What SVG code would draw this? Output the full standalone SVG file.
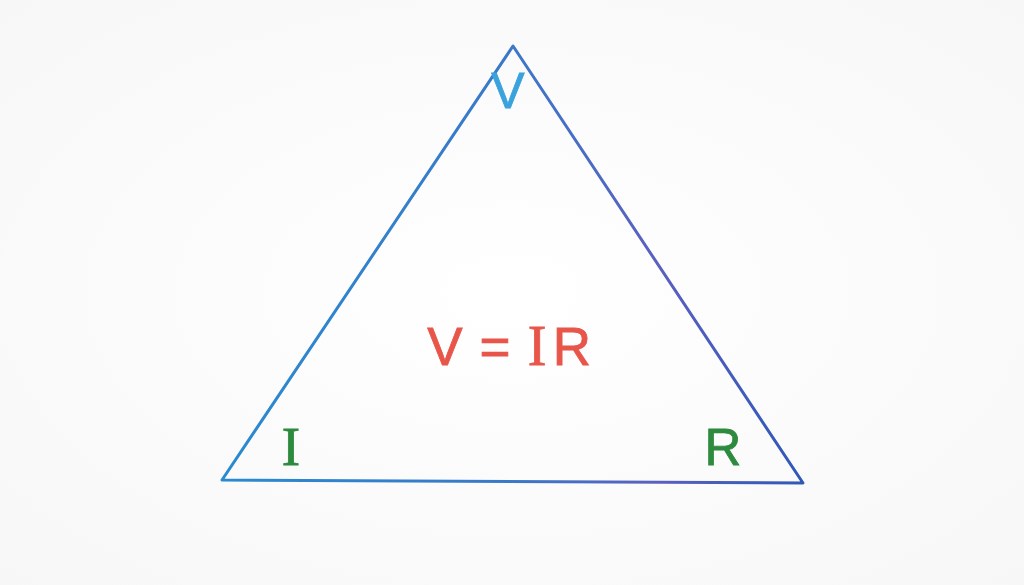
<svg xmlns="http://www.w3.org/2000/svg" width="1024" height="585" viewBox="0 0 1024 585">
<defs>
<linearGradient id="edge" x1="222" y1="0" x2="803" y2="0" gradientUnits="userSpaceOnUse">
<stop offset="0" stop-color="#2a8ad0"/>
<stop offset="0.5" stop-color="#3a78c8"/>
<stop offset="0.75" stop-color="#5a60c0"/>
<stop offset="1" stop-color="#2f58b8"/>
</linearGradient>
<radialGradient id="bg" cx="0.5" cy="0.5" r="0.7">
<stop offset="0" stop-color="#ffffff"/>
<stop offset="1" stop-color="#f7f7f7"/>
</radialGradient>
<style>
.lbl{font-family:"Liberation Sans","DejaVu Sans",sans-serif;}
.ser{font-family:"Liberation Serif","DejaVu Serif",serif;}
</style>
</defs>
<rect width="1024" height="585" fill="url(#bg)"/>
<g id="connectors">
<polygon points="513,46 222,480 803,483" fill="none" stroke="url(#edge)" stroke-width="3" stroke-linejoin="round"/>
</g>
<g id="node-V">
<text class="lbl" x="508" y="108" font-size="50" fill="#3aa2dc" text-anchor="middle" stroke="#3aa2dc" stroke-width="0.8">V</text>
</g>
<g id="node-formula" fill="#e8564a" stroke="#e8564a" stroke-width="0.8">
<text class="lbl" x="445" y="365" font-size="53" text-anchor="middle">V</text>
<text class="lbl" x="495" y="365" font-size="53" text-anchor="middle">=</text>
<text class="ser" x="537" y="365" font-size="56" text-anchor="middle">I</text>
<text class="lbl" x="572" y="365" font-size="53" text-anchor="middle">R</text>
</g>
<g id="node-I">
<text class="ser" x="291" y="465" font-size="55" fill="#2e8a3e" stroke="#2e8a3e" stroke-width="0.8" text-anchor="middle">I</text>
</g>
<g id="node-R">
<text class="lbl" x="723" y="465" font-size="51" fill="#2e8a3e" stroke="#2e8a3e" stroke-width="0.8" text-anchor="middle">R</text>
</g>
</svg>
